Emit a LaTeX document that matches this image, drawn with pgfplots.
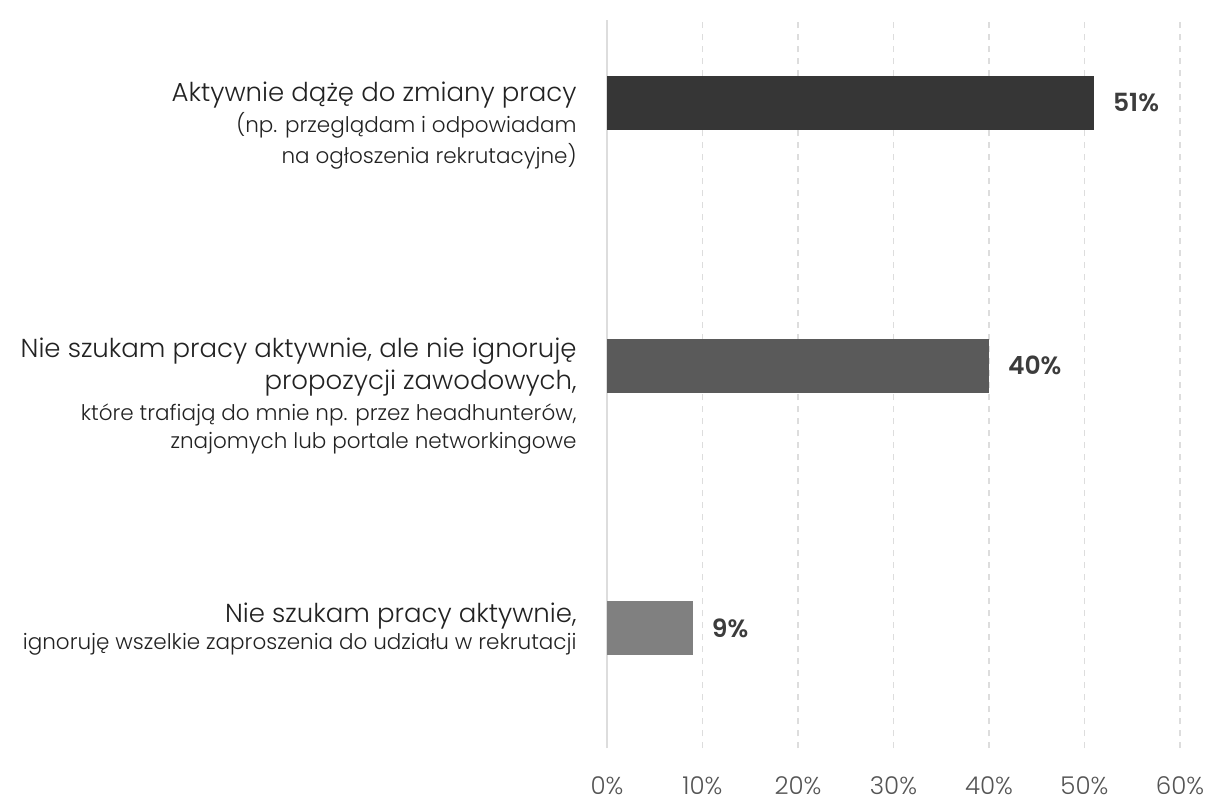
\documentclass[border=0pt]{standalone}
\usepackage{pgfplots}
\pgfplotsset{compat=1.18}
\usepackage{fontspec}
\setmainfont{Poppins}[UprightFont=* Light, BoldFont=* SemiBold]
\definecolor{barA}{HTML}{363636}
\definecolor{barB}{HTML}{5A5A5A}
\definecolor{barC}{HTML}{808080}
\definecolor{gridc}{HTML}{DDDDDD}
\definecolor{labc}{HTML}{222222}
\definecolor{tickc}{HTML}{555555}
\definecolor{valc}{HTML}{3C3C3C}
\newcommand{\bg}{\fontsize{13}{16}\selectfont}
\newcommand{\sm}{\fontsize{10.75}{14}\selectfont}
\tikzset{lab/.style={anchor=base east, inner sep=0pt, text=labc, xshift=-15pt}}
\begin{document}
\begin{tikzpicture}
\begin{axis}[
  scale only axis,
  width=286.5pt, height=364pt,
  xmin=0, xmax=60, ymin=-0.457, ymax=2.316,
  xbar, bar width=27pt, bar shift=0pt,
  axis lines*=left,
  x axis line style={draw=none},
  y axis line style={-, gridc, line width=0.6pt},
  ytick=\empty,
  xtick={0,10,20,30,40,50,60},
  xticklabel={\pgfmathprintnumber{\tick}\%},
  xticklabel style={font=\fontsize{12.25}{14}\selectfont, text=tickc, anchor=base, yshift=-23pt},
  /pgf/number format/assume math mode=true,
  major tick length=0pt,
  xmajorgrids,
  major grid style={gridc, line width=0.6pt, dash pattern=on 3pt off 3pt},
  clip=false,
  nodes near coords={\pgfmathprintnumber{\pgfplotspointmeta}\%},
  point meta=x,
  every node near coord/.append style={font=\fontsize{12.5}{14}\selectfont\bfseries, text=valc, anchor=west, xshift=6pt},
]
\addplot[draw=none, fill=barA] coordinates {(51,2)};
\addplot[draw=none, fill=barB] coordinates {(40,1)};
\addplot[draw=none, fill=barC] coordinates {(9,0)};

\node[lab, font=\bg, yshift=0.5pt]   at (axis cs:0,2) {Aktywnie dążę do zmiany pracy};
\node[lab, font=\sm, yshift=-15pt]   at (axis cs:0,2) {(np. przeglądam i odpowiadam};
\node[lab, font=\sm, yshift=-30.5pt] at (axis cs:0,2) {na ogłoszenia rekrutacyjne)};

\node[lab, font=\bg, yshift=4pt]     at (axis cs:0,1) {Nie szukam pracy aktywnie, ale nie ignoruję};
\node[lab, font=\bg, yshift=-12pt]   at (axis cs:0,1) {propozycji zawodowych,};
\node[lab, font=\sm, yshift=-27.5pt] at (axis cs:0,1) {które trafiają do mnie np. przez headhunterów,};
\node[lab, font=\sm, yshift=-41.5pt] at (axis cs:0,1) {znajomych lub portale networkingowe};

\node[lab, font=\bg, yshift=3pt]     at (axis cs:0,0) {Nie szukam pracy aktywnie,};
\node[lab, font=\sm, yshift=-10.5pt] at (axis cs:0,0) {ignoruję wszelkie zaproszenia do udziału w rekrutacji};

\path (rel axis cs:-1.0593,-0.0728) rectangle (rel axis cs:1.0541,1.0275);
\end{axis}
\end{tikzpicture}
\end{document}
